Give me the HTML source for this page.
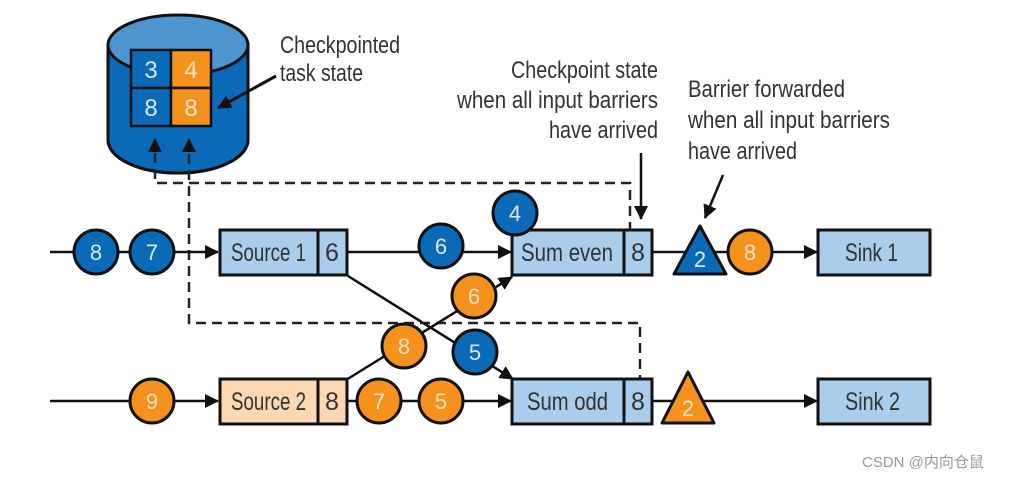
<!DOCTYPE html>
<html><head><meta charset="utf-8"><style>
html,body{margin:0;padding:0;background:#fff;width:1014px;height:478px;overflow:hidden}
svg text{font-family:"Liberation Sans Narrow","Liberation Sans",sans-serif}
</style></head><body>
<svg width="1014" height="478" viewBox="0 0 1014 478" xmlns="http://www.w3.org/2000/svg">
<defs>
<marker id="b" markerWidth="14" markerHeight="14" refX="13" refY="7" orient="auto" markerUnits="userSpaceOnUse"><path d="M0,0 L14,7 L0,14 z" fill="#111"/></marker>
</defs>
<path d="M108,45 L108,140 A70,33 0 0 0 248,140 L248,45 Z" fill="#0a6ab8" stroke="#111" stroke-width="3"/>
<ellipse cx="178" cy="45" rx="70" ry="30" fill="#4e95cf" stroke="#111" stroke-width="3"/>
<path d="M108,45 L108,140 A70,33 0 0 0 248,140 L248,45" fill="none" stroke="#111" stroke-width="3"/>
<rect x="131" y="50" width="40" height="38" fill="#0a6ab8" stroke="#111" stroke-width="2.5"/>
<rect x="171" y="50" width="40" height="38" fill="#f5921e" stroke="#111" stroke-width="2.5"/>
<rect x="131" y="88" width="40" height="38" fill="#0a6ab8" stroke="#111" stroke-width="2.5"/>
<rect x="171" y="88" width="40" height="38" fill="#f5921e" stroke="#111" stroke-width="2.5"/>
<g font-size="24" fill="#dbe9f7" text-anchor="middle">
<text x="151" y="78">3</text><text x="191" y="78" fill="#fde3c3">4</text>
<text x="151" y="116">8</text><text x="191" y="116" fill="#fde3c3">8</text></g>
<g font-size="24" fill="#333" lengthAdjust="spacingAndGlyphs">
<text x="280" y="53" textLength="120" lengthAdjust="spacingAndGlyphs">Checkpointed</text>
<text x="280" y="81" textLength="83" lengthAdjust="spacingAndGlyphs">task state</text>
<text x="511" y="78" textLength="147" lengthAdjust="spacingAndGlyphs">Checkpoint state</text>
<text x="457" y="108" textLength="201" lengthAdjust="spacingAndGlyphs">when all input barriers</text>
<text x="549" y="138" textLength="109" lengthAdjust="spacingAndGlyphs">have arrived</text>
<text x="688" y="97" textLength="157" lengthAdjust="spacingAndGlyphs">Barrier forwarded</text>
<text x="688" y="128" textLength="202" lengthAdjust="spacingAndGlyphs">when all input barriers</text>
<text x="688" y="159" textLength="109" lengthAdjust="spacingAndGlyphs">have arrived</text>
</g>
<line x1="276" y1="76" x2="218" y2="108" stroke="#111" stroke-width="3" marker-end="url(#b)"/>
<line x1="641" y1="153" x2="641" y2="219" stroke="#111" stroke-width="2.5" marker-end="url(#b)"/>
<line x1="723" y1="175" x2="705" y2="218" stroke="#111" stroke-width="2.5" marker-end="url(#b)"/>
<g fill="none" stroke="#222" stroke-width="2.5" stroke-dasharray="10,6">
<path d="M630,232 L630,183 L155,183 L155,150"/>
<path d="M640,385 L640,323 L189,323 L189,150"/>
</g>
<path d="M148,152 L155,138 L162,152 Z M182,152 L189,138 L196,152 Z" fill="#111"/>
<g stroke="#111" stroke-width="2.5" fill="none">
<line x1="50" y1="252" x2="218" y2="252" marker-end="url(#b)"/>
<line x1="347" y1="252" x2="511" y2="252" marker-end="url(#b)"/>
<line x1="652" y1="252" x2="817" y2="252" marker-end="url(#b)"/>
<line x1="50" y1="401" x2="218" y2="401" marker-end="url(#b)"/>
<line x1="347" y1="401" x2="511" y2="401" marker-end="url(#b)"/>
<line x1="652" y1="401" x2="817" y2="401" marker-end="url(#b)"/>
<line x1="348" y1="276" x2="513" y2="379" marker-end="url(#b)"/>
<line x1="346" y1="380" x2="512" y2="277" marker-end="url(#b)"/>
</g>
<g stroke="#111" stroke-width="3">
<rect x="220" y="230" width="127" height="45" fill="#a9cdea"/><line x1="318" y1="230" x2="318" y2="275"/>
<rect x="220" y="379" width="127" height="45" fill="#fbd8b3"/><line x1="318" y1="379" x2="318" y2="424"/>
<rect x="512" y="230" width="140" height="45" fill="#a9cdea"/><line x1="624" y1="230" x2="624" y2="275"/>
<rect x="512" y="379" width="140" height="45" fill="#a9cdea"/><line x1="624" y1="379" x2="624" y2="424"/>
<rect x="818" y="230" width="112" height="45" fill="#a9cdea"/>
<rect x="818" y="379" width="112" height="45" fill="#a9cdea"/>
</g>
<g font-size="25" fill="#333">
<text x="231" y="261" textLength="75" lengthAdjust="spacingAndGlyphs">Source 1</text>
<text x="231" y="410" textLength="75" lengthAdjust="spacingAndGlyphs">Source 2</text>
<text x="521" y="261" textLength="92" lengthAdjust="spacingAndGlyphs">Sum even</text>
<text x="527" y="410" textLength="81" lengthAdjust="spacingAndGlyphs">Sum odd</text>
<text x="845" y="261" textLength="53" lengthAdjust="spacingAndGlyphs">Sink 1</text>
<text x="845" y="410" textLength="55" lengthAdjust="spacingAndGlyphs">Sink 2</text>
</g>
<g font-size="25" fill="#333" text-anchor="middle">
<text x="332" y="261">6</text><text x="332" y="410">8</text>
<text x="638" y="261">8</text><text x="638" y="410">8</text>
</g>
<g stroke="#111" stroke-width="3">
<circle cx="96" cy="252" r="22" fill="#0a6ab8"/>
<circle cx="152" cy="252" r="22" fill="#0a6ab8"/>
<circle cx="441" cy="246" r="22" fill="#0a6ab8"/>
<circle cx="515" cy="213" r="22" fill="#0a6ab8"/>
<circle cx="475" cy="352" r="22" fill="#0a6ab8"/>
<circle cx="152" cy="401" r="22" fill="#f5921e"/>
<circle cx="379" cy="401" r="22" fill="#f5921e"/>
<circle cx="441" cy="401" r="22" fill="#f5921e"/>
<circle cx="404" cy="346" r="22" fill="#f5921e"/>
<circle cx="474" cy="296" r="22" fill="#f5921e"/>
<circle cx="750" cy="252" r="22" fill="#f5921e"/>
<path d="M700,226 L726,274 L674,274 Z" fill="#0a6ab8" stroke-linejoin="round"/>
<path d="M688,372 L714,423 L662,423 Z" fill="#f5921e" stroke-linejoin="round"/>
</g>
<g font-size="22" text-anchor="middle">
<g fill="#dbe9f7">
<text x="96" y="260">8</text><text x="152" y="260">7</text><text x="441" y="254">6</text>
<text x="515" y="221">4</text><text x="475" y="360">5</text><text x="700" y="267">2</text></g>
<g fill="#fde3c3">
<text x="152" y="409">9</text><text x="379" y="409">7</text><text x="441" y="409">5</text>
<text x="404" y="354">8</text><text x="474" y="304">6</text><text x="750" y="260">8</text><text x="688" y="416">2</text></g>
</g>
<text x="862" y="467" font-size="15" fill="#999" style='font-family:"Liberation Sans","Noto Sans CJK SC",sans-serif'>CSDN @内向仓鼠</text>
</svg>
</body></html>
